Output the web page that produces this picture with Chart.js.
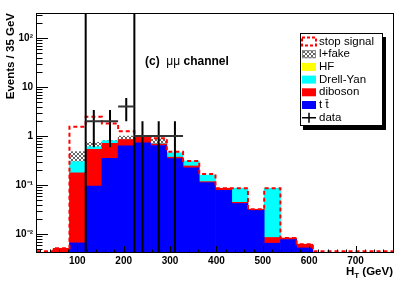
<!DOCTYPE html>
<html>
<head>
<meta charset="utf-8">
<script src="https://cdn.jsdelivr.net/npm/chart.js@4.4.1/dist/chart.umd.min.js"></script>
<style>
  html, body { margin: 0; padding: 0; background: #fff; }
  #wrap { width: 415px; height: 282px; }
</style>
</head>
<body>
<div id="wrap"><canvas id="c" width="415" height="282"></canvas></div>
<script>
// H_T bins, 35 GeV wide
const binCenters = [30.5, 65.5, 100.5, 135.5, 170.5, 205.5, 240.5, 275.5, 310.5, 345.5, 380.5,
  415.5, 450.5, 485.5, 520.5, 555.5, 590.5, 625.5, 660.5, 695.5, 730.5, 765.5];
const binWidth = 35;

// stacked backgrounds, bottom to top
const ttbar    = [0, 0, 0.0066, 0.095, 0.35, 0.63, 0.73, 0.64, 0.345, 0.225, 0.112, 0.078, 0.042, 0.0305, 0.0065, 0.0077, 0.0052, 0, 0, 0, 0, 0];
const diboson  = [0, 0.0051, 0.171, 0.44, 0.36, 0.22, 0.21, 0.05, 0.025, 0.02, 0.005, 0.008, 0.0023, 0.0015, 0.002, 0.0006, 0.001, 0, 0, 0, 0, 0];
const drellYan = [0, 0, 0.122, 0.07, 0.09, 0.005, 0.005, 0.01, 0.087, 0.065, 0.043, 0, 0.042, 0, 0.0775, 0, 0, 0, 0, 0, 0, 0];
const heavyFlv = [0, 0, 0, 0, 0, 0, 0, 0, 0, 0, 0, 0, 0, 0, 0, 0, 0, 0, 0, 0, 0, 0];
const lepFake  = [0, 0, 0.18, 0.14, 0.01, 0.14, 0, 0.16, 0, 0, 0, 0, 0, 0, 0, 0, 0, 0, 0, 0, 0, 0];
// stop signal, drawn on top of the SM stack
const stopSig  = [0, 0, 1.07, 1.73, 1.0, 0.25, 0.06, 0.04, 0.02, 0, 0.008, 0, 0, 0, 0, 0, 0, 0, 0, 0, 0, 0];

// data
const dataCounts = [0, 0, 0, 2, 2, 4, 1, 1, 1, 0, 0, 0, 0, 0, 0, 0, 0, 0, 0, 0, 0, 0];
const dataErr    = [0, 0, 0, 1.41, 1.41, 2, 1, 1, 1, 0, 0, 0, 0, 0, 0, 0, 0, 0, 0, 0, 0, 0];
const dataEdgeLines = [118, 223];

const xTicks = [100, 200, 300, 400, 500, 600, 700];
const yTicks = [0.01, 0.1, 1, 10, 100];
const yTickLabels = ['10⁻²', '10⁻¹', '1', '10', '10²'];
const xMin = 13, xMax = 783;
const yMin = 0.0041, yMax = 324;

const FONT = '"Liberation Sans", Arial, Helvetica, sans-serif';

function makeHatch() {
  const c = document.createElement('canvas');
  c.width = 4; c.height = 4;
  const g = c.getContext('2d');
  g.fillStyle = '#fff';
  g.fillRect(0, 0, 4, 4);
  g.fillStyle = '#666';
  [[0, 0], [1, 1], [2, 2], [3, 3], [3, 0], [2, 1], [1, 2], [0, 3]].forEach(p => g.fillRect(p[0], p[1], 1, 1));
  return g.createPattern(c, 'repeat');
}
const hatch = makeHatch();

const toBars = arr => arr.map((v, i) => ({ x: binCenters[i], y: v > 0 ? v : null }));

// outline of SM + signal, as a histogram step
const sigOutline = [];
binCenters.forEach((c, i) => {
  const tot = ttbar[i] + diboson[i] + drellYan[i] + heavyFlv[i] + lepFake[i] + stopSig[i];
  const v = Math.max(tot, yMin * 1.08);
  sigOutline.push({ x: c - binWidth / 2, y: v }, { x: c + binWidth / 2, y: v });
});

const stack = [
  { label: 't t\u0304', data: ttbar, color: '#0000ff' },
  { label: 'diboson', data: diboson, color: '#ff0000' },
  { label: 'Drell-Yan', data: drellYan, color: '#00ffff' },
  { label: 'HF', data: heavyFlv, color: '#ffff00' },
  { label: 'l+fake', data: lepFake, color: hatch },
];

const datasets = stack.map(s => ({
  type: 'bar',
  label: s.label,
  data: toBars(s.data),
  backgroundColor: s.color,
  borderWidth: 0,
  barPercentage: 1,
  categoryPercentage: 1,
  order: 2,
}));
datasets.push({
  type: 'line',
  label: 'stop signal',
  data: sigOutline,
  borderColor: '#ff0000',
  borderWidth: 2,
  borderDash: [4, 3],
  pointRadius: 0,
  fill: false,
  tension: 0,
  stack: 'signal',
  order: 1,
});

const decorations = {
  id: 'decorations',
  afterDatasetsDraw(chart) {
    const { ctx, chartArea: a, scales: { x, y } } = chart;
    ctx.save();

    // data points with error bars
    ctx.lineWidth = 2;
    ctx.strokeStyle = '#000';
    ctx.beginPath();
    dataEdgeLines.forEach(v => {
      const px = x.getPixelForValue(v);
      ctx.moveTo(px, a.top);
      ctx.lineTo(px, a.bottom);
    });
    dataCounts.forEach((n, i) => {
      if (!n) return;
      const cx = x.getPixelForValue(binCenters[i]);
      const py = y.getPixelForValue(n);
      const lo = n - dataErr[i] > 0 ? y.getPixelForValue(n - dataErr[i]) : a.bottom;
      ctx.moveTo(cx, y.getPixelForValue(n + dataErr[i]));
      ctx.lineTo(cx, lo);
    });
    ctx.stroke();
    ctx.strokeStyle = '#333';
    ctx.beginPath();
    dataCounts.forEach((n, i) => {
      if (!n) return;
      const py = y.getPixelForValue(n);
      ctx.moveTo(x.getPixelForValue(binCenters[i] - binWidth / 2), py);
      ctx.lineTo(x.getPixelForValue(binCenters[i] + binWidth / 2), py);
    });
    ctx.stroke();

    // inward ticks and frame
    ctx.lineWidth = 1;
    ctx.strokeStyle = '#000';
    ctx.beginPath();
    for (let v = 20; v < xMax; v += 20) {
      const px = Math.round(x.getPixelForValue(v)) + 0.5;
      const len = v % 100 === 0 ? 7 : 3.5;
      ctx.moveTo(px, a.bottom);
      ctx.lineTo(px, a.bottom - len);
    }
    for (let d = -3; d <= 2; d++) {
      for (let k = 1; k <= 9; k++) {
        const v = k * Math.pow(10, d);
        if (v < yMin || v > yMax) continue;
        const py = Math.round(y.getPixelForValue(v)) + 0.5;
        ctx.moveTo(a.left, py);
        ctx.lineTo(a.left + (k === 1 ? 11 : 5.5), py);
      }
    }
    ctx.stroke();
    ctx.strokeRect(Math.round(a.left) - 0.5, Math.round(a.top) + 0.5,
      Math.round(a.right - a.left), Math.round(a.bottom - a.top) - 1);
    ctx.restore();
  },
  afterDraw(chart) {
    const ctx = chart.ctx;
    ctx.save();
    ctx.fillStyle = '#000';
    ctx.textBaseline = 'middle';

    // channel label
    let tx = 145;
    const ty = 62;
    ctx.font = 'bold 12px ' + FONT;
    ctx.fillText('(c)', tx, ty);
    tx += ctx.measureText('(c)  ').width;
    ctx.font = '12px ' + FONT;
    ctx.fillText('μμ', tx, ty);
    tx += ctx.measureText('μμ').width;
    ctx.font = 'bold 12px ' + FONT;
    ctx.fillText(' channel', tx, ty);

    // x title H_T (GeV), right aligned to the frame
    ctx.textBaseline = 'alphabetic';
    ctx.font = 'bold 11.5px ' + FONT;
    const wH = ctx.measureText('H').width;
    const wG = ctx.measureText(' (GeV)').width;
    ctx.font = 'bold 8px ' + FONT;
    const wT = ctx.measureText('T').width;
    let hx = chart.chartArea.right - 1 - wG - wT - wH;
    ctx.font = 'bold 11.5px ' + FONT;
    ctx.fillText('H', hx, 275);
    ctx.font = 'bold 8px ' + FONT;
    ctx.fillText('T', hx + wH, 278);
    ctx.font = 'bold 11.5px ' + FONT;
    ctx.fillText(' (GeV)', hx + wH + wT, 275);

    // legend box with shadow
    const bx = 300, by = 33, bw = 83, bh = 93, row = 12.7;
    ctx.fillStyle = '#000';
    ctx.fillRect(bx + 3, by + 4, bw, bh);
    ctx.fillStyle = '#fff';
    ctx.fillRect(bx, by, bw, bh);
    ctx.strokeStyle = '#000';
    ctx.lineWidth = 1;
    ctx.strokeRect(bx + 0.5, by + 0.5, bw - 1, bh - 1);

    const entries = [{ label: 'stop signal', kind: 'signal' }]
      .concat(stack.slice().reverse().map(s => ({ label: s.label, kind: 'fill', color: s.color })))
      .concat([{ label: 'data', kind: 'data' }]);
    ctx.textBaseline = 'middle';
    ctx.font = '11.5px ' + FONT;
    entries.forEach((e, i) => {
      const cy = by + 8.5 + i * row;
      const sx = 302, sw = 14, sh = 8;
      if (e.kind === 'signal') {
        ctx.fillStyle = '#fff';
        ctx.fillRect(sx, cy - sh / 2, sw, sh);
        ctx.strokeStyle = '#ff0000';
        ctx.lineWidth = 2;
        ctx.setLineDash([3, 2]);
        ctx.strokeRect(sx, cy - sh / 2, sw, sh);
        ctx.setLineDash([]);
      } else if (e.kind === 'fill') {
        ctx.fillStyle = e.color;
        ctx.fillRect(sx, cy - sh / 2, sw, sh);
        if (e.color === hatch) {
          ctx.strokeStyle = '#888';
          ctx.lineWidth = 1;
          ctx.strokeRect(sx + 0.5, cy - sh / 2 + 0.5, sw - 1, sh - 1);
        }
      } else {
        ctx.strokeStyle = '#000';
        ctx.lineWidth = 1.5;
        ctx.beginPath();
        ctx.moveTo(sx, cy);
        ctx.lineTo(sx + sw, cy);
        ctx.moveTo(sx + sw / 2, cy - 5);
        ctx.lineTo(sx + sw / 2, cy + 5);
        ctx.stroke();
      }
      ctx.fillStyle = '#000';
      ctx.fillText(e.label, 319, cy);
    });
    ctx.restore();
  }
};

new Chart(document.getElementById('c'), {
  type: 'bar',
  data: { datasets },
  options: {
    responsive: false,
    animation: false,
    devicePixelRatio: 1,
    layout: { padding: { left: 0, top: 13, right: 21, bottom: 0 } },
    plugins: { legend: { display: false }, tooltip: { enabled: false } },
    scales: {
      x: {
        type: 'linear',
        min: xMin,
        max: xMax,
        offset: false,
        stacked: true,
        grid: { display: false, drawTicks: false },
        border: { display: false },
        afterBuildTicks: s => { s.ticks = xTicks.map(v => ({ value: v })); },
        afterFit: s => { s.height = 29; },
        ticks: {
          autoSkip: false,
          maxRotation: 0,
          padding: 2,
          color: '#000',
          font: { family: FONT, size: 10, weight: 'bold' },
          callback: v => String(v),
        },
      },
      y: {
        type: 'logarithmic',
        min: yMin,
        max: yMax,
        stacked: true,
        grid: { display: false, drawTicks: false },
        border: { display: false },
        afterBuildTicks: s => { s.ticks = yTicks.map(v => ({ value: v })); },
        afterFit: s => { s.width = 37; },
        ticks: {
          padding: 4,
          color: '#000',
          font: { family: FONT, size: 10, weight: 'bold' },
          callback: (v, i) => yTickLabels[i],
        },
        title: {
          display: true,
          text: 'Events / 35 GeV',
          align: 'end',
          color: '#000',
          padding: { top: 4, bottom: 0 },
          font: { family: FONT, size: 11.5, weight: 'bold' },
        },
      },
    },
  },
  plugins: [decorations],
});
</script>
</body>
</html>
